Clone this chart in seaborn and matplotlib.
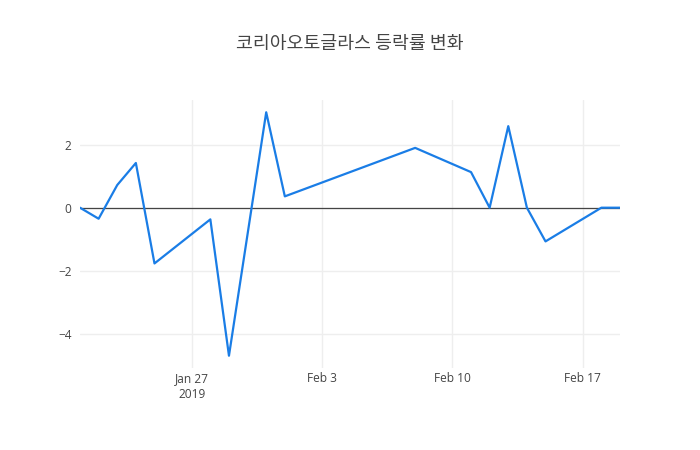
import matplotlib
matplotlib.use("Agg")
import matplotlib.pyplot as plt
import seaborn as sns
import pandas as pd

dates = ["2019-01-21", "2019-01-22", "2019-01-23", "2019-01-24", "2019-01-25",
         "2019-01-28", "2019-01-29", "2019-01-31", "2019-02-01", "2019-02-08",
         "2019-02-11", "2019-02-12", "2019-02-13", "2019-02-14", "2019-02-15",
         "2019-02-18", "2019-02-19"]
changes = [0.0, -0.35, 0.72, 1.42, -1.77,
           -0.37, -4.70, 3.03, 0.36, 1.90,
           1.13, 0.0, 2.59, 0.0, -1.07,
           0.0, 0.0]
title = "코리아오토글라스 등락률 변화"
tick_dates = ["2019-01-27", "2019-02-03", "2019-02-10", "2019-02-17"]
tick_labels = ["Jan 27\n2019", "Feb 3", "Feb 10", "Feb 17"]
y_ticks = [-4, -2, 0, 2]
y_labels = ["−4", "−2", "0", "2"]

df = pd.DataFrame({"date": pd.to_datetime(dates), "change": changes})

sns.set_style("white")
plt.rcParams["font.family"] = ["Open Sans", "Noto Sans CJK KR", "DejaVu Sans"]

fig = plt.figure(figsize=(7, 4.5), dpi=100)
ax = fig.add_axes([80/700, 1-368/450, 540/700, 268/450])

sns.lineplot(data=df, x="date", y="change", ax=ax, color="#1a7de6", linewidth=1.6)

ax.set_xlim(pd.Timestamp("2019-01-21"), pd.Timestamp("2019-02-19"))
ax.set_ylim(-5.09, 3.42)
ax.axhline(0, color="#444444", linewidth=0.9, zorder=1)

ax.set_xticks(pd.to_datetime(tick_dates))
ax.set_xticklabels(tick_labels, linespacing=1.25)
ax.set_yticks(y_ticks)
ax.set_yticklabels(y_labels)
ax.tick_params(axis="both", length=0, labelsize=8.6, colors="#444444")
ax.tick_params(axis="x", pad=3)
ax.tick_params(axis="y", pad=6)

ax.grid(True, color="#eeeeee", linewidth=1)
ax.set_axisbelow(True)
for s in ax.spines.values():
    s.set_visible(False)
ax.set_xlabel("")
ax.set_ylabel("")

fig.text(350/700, 1-44/450, title, ha="center", va="center", fontsize=13.2,
         color="#444444", family=["Noto Sans CJK KR", "DejaVu Sans"])

fig.savefig("out.png", dpi=100, facecolor="white")
